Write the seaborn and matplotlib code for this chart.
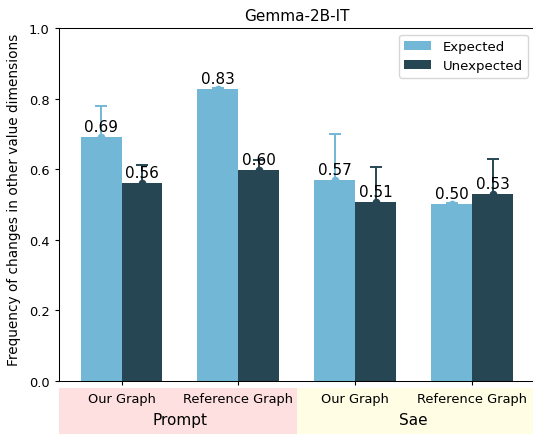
import matplotlib
matplotlib.use("Agg")
import matplotlib.pyplot as plt
import matplotlib.transforms as mtransforms
from matplotlib.patches import Rectangle
import seaborn as sns
import pandas as pd

methods = ["Prompt", "Prompt", "Sae", "Sae"]
graphs = ["Our Graph", "Reference Graph", "Our Graph", "Reference Graph"]
expected = [0.691, 0.827, 0.569, 0.501]
unexpected = [0.561, 0.597, 0.507, 0.530]
expected_err = [0.087, 0.004, 0.130, 0.004]
unexpected_err = [0.050, 0.030, 0.100, 0.100]
series = ["Expected", "Unexpected"]
colors = {"Expected": "#72b8d6", "Unexpected": "#264653"}

cats = [f"{m}|{g}" for m, g in zip(methods, graphs)]
df = pd.DataFrame({
    "cat": cats * 2,
    "series": ["Expected"] * 4 + ["Unexpected"] * 4,
    "value": expected + unexpected,
})

plt.rcParams["font.family"] = ["DejaVu Sans"]

fig = plt.figure(figsize=(5.33, 4.35), dpi=100)
ax = fig.add_axes([0.1107, 0.1218, 1.003 - 0.1107, 0.9333 - 0.1218])

sns.barplot(data=df, x="cat", y="value", hue="series", order=cats,
            hue_order=series, palette=colors, width=0.7, errorbar=None,
            saturation=1, linewidth=0, ax=ax)

errs = {"Expected": expected_err, "Unexpected": unexpected_err}
vals = {"Expected": expected, "Unexpected": unexpected}
for cont, s in zip(ax.containers, series):
    xs = [p.get_x() + p.get_width() / 2 for p in cont.patches]
    ax.errorbar(xs, vals[s], yerr=errs[s], fmt="o", color=colors[s],
                capsize=4.5, markersize=4.5, elinewidth=1.4, capthick=1.4)
    for x, v in zip(xs, vals[s]):
        ax.text(x, v + 0.008, f"{v:.2f}", ha="center", va="bottom", fontsize=11)

ax.set_xlim(-0.535, 3.535)
ax.set_ylim(0, 1.0)
ax.set_xticks(range(4))
ax.set_xticklabels(graphs, fontsize=9.4)
ax.tick_params(axis="x", bottom=True, length=3.2, pad=4.8)
ax.tick_params(axis="y", left=True, length=3.2, labelsize=9.4)
ax.set_xlabel("")
ax.set_ylabel("Frequency of changes in other value dimensions", fontsize=9.8)
ax.yaxis.set_label_coords(-0.079, 0.517)
ax.set_title("Gemma-2B-IT", fontsize=11)
for sp in ax.spines.values():
    sp.set_color("black")
    sp.set_linewidth(0.75)

trans = mtransforms.blended_transform_factory(ax.transData, ax.transAxes)
y0 = -0.178
h = 0.158
ax.add_patch(Rectangle((-0.535, y0), 1.5 + 0.535, h, transform=trans,
                       facecolor="#ffe0e0", edgecolor="none", clip_on=False, zorder=0))
ax.add_patch(Rectangle((1.5, y0), 3.535 - 1.5, h, transform=trans,
                       facecolor="#fffde3", edgecolor="none", clip_on=False, zorder=0))
ax.text(0.5, -0.108, "Prompt", transform=trans, ha="center", va="center", fontsize=11)
ax.text(2.5, -0.108, "Sae", transform=trans, ha="center", va="center", fontsize=11)

ax.legend(loc="upper right", fontsize=9.5, title=None, handletextpad=0.9)

fig.savefig("out.png", dpi=100)
